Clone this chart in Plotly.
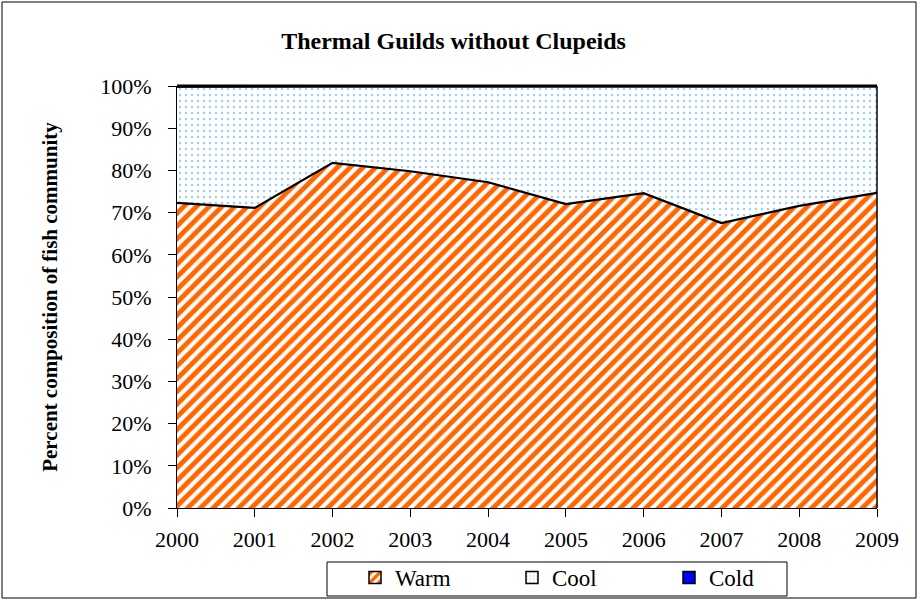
import plotly.graph_objects as go

years = [2000, 2001, 2002, 2003, 2004, 2005, 2006, 2007, 2008, 2009]
warm = [72.3, 71.1, 81.8, 79.8, 77.2, 72.0, 74.6, 67.5, 71.6, 74.7]
cold = [0.1, 0.0, 0.0, 0.0, 0.0, 0.1, 0.0, 0.0, 0.0, 0.0]
cool = [round(100 - w - c, 2) for w, c in zip(warm, cold)]
y_ticks = [0, 10, 20, 30, 40, 50, 60, 70, 80, 90, 100]
y_tick_labels = [f"{t}%" for t in y_ticks]

FONT = "Liberation Serif, Times New Roman, serif"
ORANGE = "#FF6600"
WARM_PAT = dict(shape="/", fgcolor=ORANGE, fgopacity=1, bgcolor="white", size=9, solidity=0.55)
COOL_PAT = dict(shape=".", fgcolor="#99CCFF", fgopacity=1, bgcolor="white", size=6, solidity=0.14)

L, R, T, B = 177, 877, 86, 508
PW, PH = R - L, B - T

fig = go.Figure()
fig.add_trace(go.Scatter(
    x=years, y=warm, name="Warm", mode="lines", stackgroup="one", showlegend=False,
    line=dict(color="black", width=2.2), fillcolor=ORANGE, fillpattern=WARM_PAT,
))
fig.add_trace(go.Scatter(
    x=years, y=cool, name="Cool", mode="lines", stackgroup="one", showlegend=False,
    line=dict(color="black", width=2.5), fillcolor="#BFE0FF", fillpattern=COOL_PAT,
))
fig.add_trace(go.Scatter(
    x=years, y=cold, name="Cold", mode="lines", stackgroup="one", showlegend=False,
    line=dict(color="black", width=2.5), fillcolor="#0000FF",
))

# legend-only swatches (empty bars) so the legend shows filled squares
for name, pat, col in [("Warm", WARM_PAT, ORANGE), ("Cool", COOL_PAT, "#BFE0FF"), ("Cold", None, "#0000FF")]:
    marker = dict(color=col, line=dict(color="black", width=1.5))
    if pat:
        p = dict(pat)
        p["size"] = 8 if name == "Warm" else 4
        marker["pattern"] = p
    fig.add_trace(go.Bar(x=[None], y=[None], name=name, marker=marker, showlegend=True))

fig.update_layout(
    template="none",
    width=920, height=602,
    margin=dict(l=L, r=920 - R, t=T, b=602 - B, autoexpand=False),
    paper_bgcolor="white", plot_bgcolor="white",
    font=dict(family=FONT, size=22, color="black"),
    title=dict(text="<b>Thermal Guilds without Clupeids</b>", x=0.493, xanchor="center",
               y=0.932, yanchor="middle", font=dict(family=FONT, size=24, color="black")),
    xaxis=dict(range=[2000, 2009], tickmode="array", tickvals=years,
               ticktext=[str(y) for y in years], automargin=False,
               showgrid=False, zeroline=False, showline=True, linecolor="black", linewidth=1,
               ticks="outside", ticklen=8, tickcolor="black", ticklabelstandoff=4,
               tickfont=dict(family=FONT, size=22)),
    yaxis=dict(range=[0, 100], tickmode="array", tickvals=y_ticks, ticktext=y_tick_labels,
               automargin=False,
               showgrid=False, zeroline=False, showline=True, linecolor="black", linewidth=1,
               ticks="outside", ticklen=8, tickcolor="black", ticklabelstandoff=12,
               tickfont=dict(family=FONT, size=22),
               title=dict(text="<b>Percent composition of fish community</b>",
                          font=dict(family=FONT, size=21), standoff=36)),
    legend=dict(orientation="h", x=(355 - L) / PW, xanchor="left",
                y=-(556 - B) / PH, yanchor="top",
                borderwidth=0, bgcolor="rgba(0,0,0,0)",
                font=dict(family=FONT, size=23), traceorder="normal",
                entrywidth=112, itemwidth=30),
    showlegend=True,
    barmode="overlay",
)

# top edge of the stacked area (100% line drawn in full width)
fig.add_shape(type="line", xref="paper", yref="paper", x0=0, x1=1, y0=1, y1=1,
              line=dict(color="black", width=3))
# right edge of the area (vertical line at 2009)
fig.add_shape(type="line", xref="paper", yref="paper", x0=1, x1=1, y0=0, y1=1,
              line=dict(color="black", width=1.5))
# outer chart border
fig.add_shape(type="rect", xref="paper", yref="paper",
              x0=(2 - L) / PW, x1=(916 - L) / PW,
              y0=(B - 598) / PH, y1=(B - 2) / PH,
              line=dict(color="black", width=1), fillcolor="rgba(0,0,0,0)", layer="below")
# legend box
fig.add_shape(type="rect", xref="paper", yref="paper",
              x0=(327 - L) / PW, x1=(787 - L) / PW,
              y0=(B - 596) / PH, y1=(B - 562) / PH,
              line=dict(color="black", width=1), fillcolor="rgba(0,0,0,0)", layer="below")

fig.write_html("out.html", config={"displayModeBar": False},
               post_script="document.body.style.margin='0px';")
